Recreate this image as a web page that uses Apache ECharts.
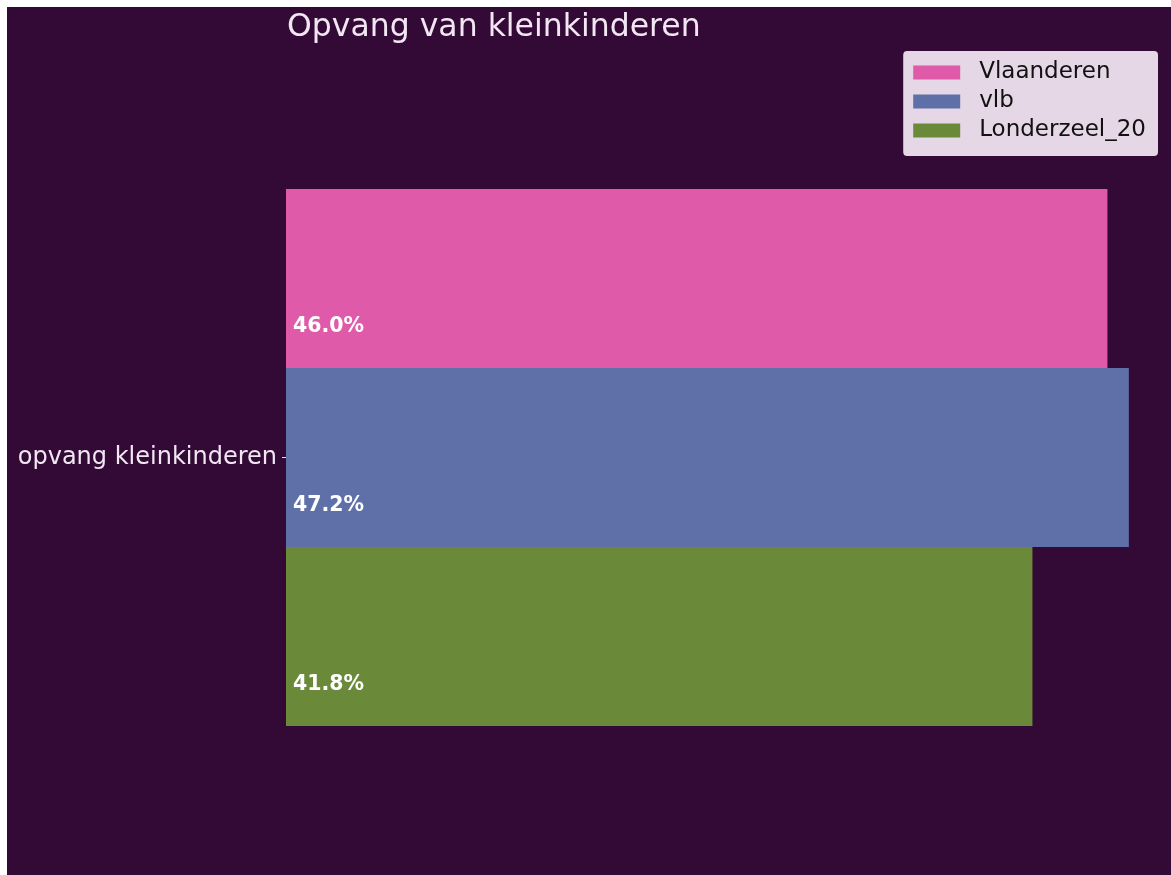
<!DOCTYPE html>
<html><head><meta charset="utf-8">
<script src="https://cdn.jsdelivr.net/npm/echarts@6/dist/echarts.min.js"></script>
<style>
html,body{margin:0;padding:0;background:#fff;width:1171px;height:875px;overflow:hidden;}
#c{position:absolute;left:7px;top:7px;width:1164px;height:868px;}
</style></head>
<body><div id="c"></div>
<script>
const categories = ['opvang kleinkinderen'];
const seriesNames = ['Vlaanderen', 'vlb', 'Londerzeel_20'];
const vlaanderen = [46.0];
const vlb = [47.2];
const londerzeel = [41.8];
const colors = ['#df5ba9', '#5f70a8', '#6a8a3a'];

const allValues = [vlaanderen, vlb, londerzeel];
const chart = echarts.init(document.getElementById('c'));
const mkSeries = (name, data, color) => ({
  name, type: 'bar', data,
  itemStyle: { color },
  barGap: '0%', barCategoryGap: '0%',
  label: {
    show: true, position: [7, '77%'], verticalAlign: 'middle', align: 'left',
    color: '#fff', fontWeight: 'bold', fontSize: 20.5, fontFamily: 'DejaVu Sans',
    formatter: p => p.value.toFixed(1) + '%'
  }
});
chart.setOption({
  backgroundColor: '#330a36',
  animation: false,
  title: {
    text: 'Opvang van kleinkinderen', left: 275, top: 0,
    textStyle: { color: '#f2e6f2', fontSize: 31.5, fontWeight: 'normal', fontFamily: 'DejaVu Sans' }
  },
  legend: {
    orient: 'vertical', right: 13, top: 44,
    data: seriesNames,
    backgroundColor: 'rgba(236,224,236,0.96)', borderRadius: 4,
    padding: [10, 12, 14, 10],
    itemWidth: 47, itemHeight: 14, itemGap: 6,
    icon: 'rect',
    textStyle: { color: '#111', fontSize: 23, fontFamily: 'DejaVu Sans', padding: [0, 0, 0, 14] }
  },
  grid: { left: 279, right: 0, top: 182, height: 537, containLabel: false },
  xAxis: {
    type: 'value', min: 0, max: 49.56, show: false
  },
  yAxis: {
    type: 'category', data: categories, inverse: true,
    axisLine: { show: false },
    axisTick: { show: true, length: 4, alignWithLabel: true, lineStyle: { color: '#e8d8e8' } },
    axisLabel: { color: '#f2e6f2', fontSize: 24, fontFamily: 'DejaVu Sans', margin: 9 }
  },
  series: [
    mkSeries(seriesNames[0], allValues[0], colors[0]),
    mkSeries(seriesNames[1], allValues[1], colors[1]),
    mkSeries(seriesNames[2], allValues[2], colors[2])
  ]
});
</script>
</body></html>
